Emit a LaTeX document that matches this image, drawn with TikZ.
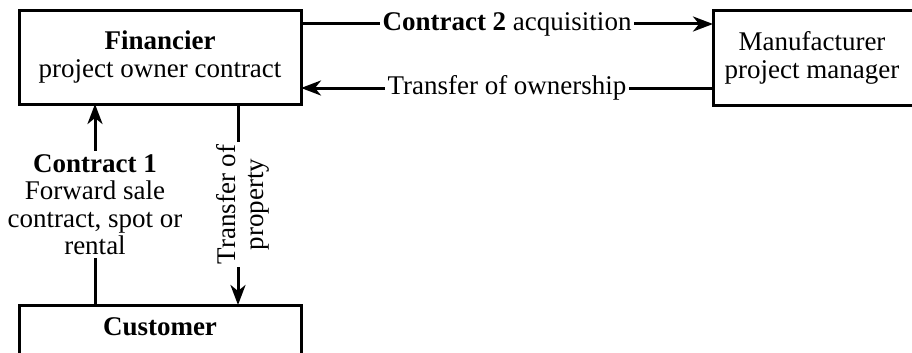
\documentclass[tikz,border=0pt]{standalone}
\usepackage{fontspec}
\setmainfont{Liberation Serif}
\usetikzlibrary{arrows.meta}
\begin{document}
\begin{tikzpicture}[x=1pt,y=-1pt,
  box/.style={draw,line width=3pt,inner sep=0pt,outer sep=0pt},
  conn/.style={line width=3pt,-{Stealth[length=20pt,width=15pt,inset=6pt]}},
  lbl/.style={fill=white,inner sep=3pt,align=center,font=\fontsize{27}{27.5}\selectfont},
  txt/.style={align=center,font=\fontsize{27}{28}\selectfont}]
\useasboundingbox (0,0) rectangle (912,353);
% boxes
\node[box,minimum width=282pt,minimum height=93pt,anchor=north west] (fin) at (19,11) {};
\node[txt] at (fin.center) {\textbf{Financier}\\project owner contract};
\node[box,minimum width=202pt,minimum height=94pt,anchor=north west] (man) at (713,11) {};
\node[txt] at ([xshift=-2pt]man.center) {Manufacturer\\project manager};
\node[box,minimum width=282pt,minimum height=56pt,anchor=north west] (cus) at (19,305) {};
\node[txt,anchor=base] at (160,335) {\textbf{Customer}};
% anchor points on the box edges
\coordinate (f2) at (fin.east |- 0,24);
\coordinate (m2) at (man.west |- 0,24);
\coordinate (f3) at (fin.east |- 0,88);
\coordinate (m3) at (man.west |- 0,88);
\coordinate (fb1) at (fin.south -| 95,0);
\coordinate (cb1) at (cus.north -| 95,0);
\coordinate (fb2) at (fin.south -| 238,0);
\coordinate (cb2) at (cus.north -| 238,0);
% connectors
\draw[conn] (f2) -- node[lbl] {\textbf{Contract 2} acquisition} (m2);
\draw[conn] (m3) -- node[lbl] {Transfer of ownership} (f3);
\draw[conn] (cb1) -- node[lbl,pos=0.5] {\textbf{Contract 1}\\Forward sale\\contract, spot or\\rental} (fb1);
\draw[conn] (fb2) -- node[lbl,rotate=90,yshift=-5pt] {Transfer of\\property} (cb2);
\end{tikzpicture}
\end{document}
